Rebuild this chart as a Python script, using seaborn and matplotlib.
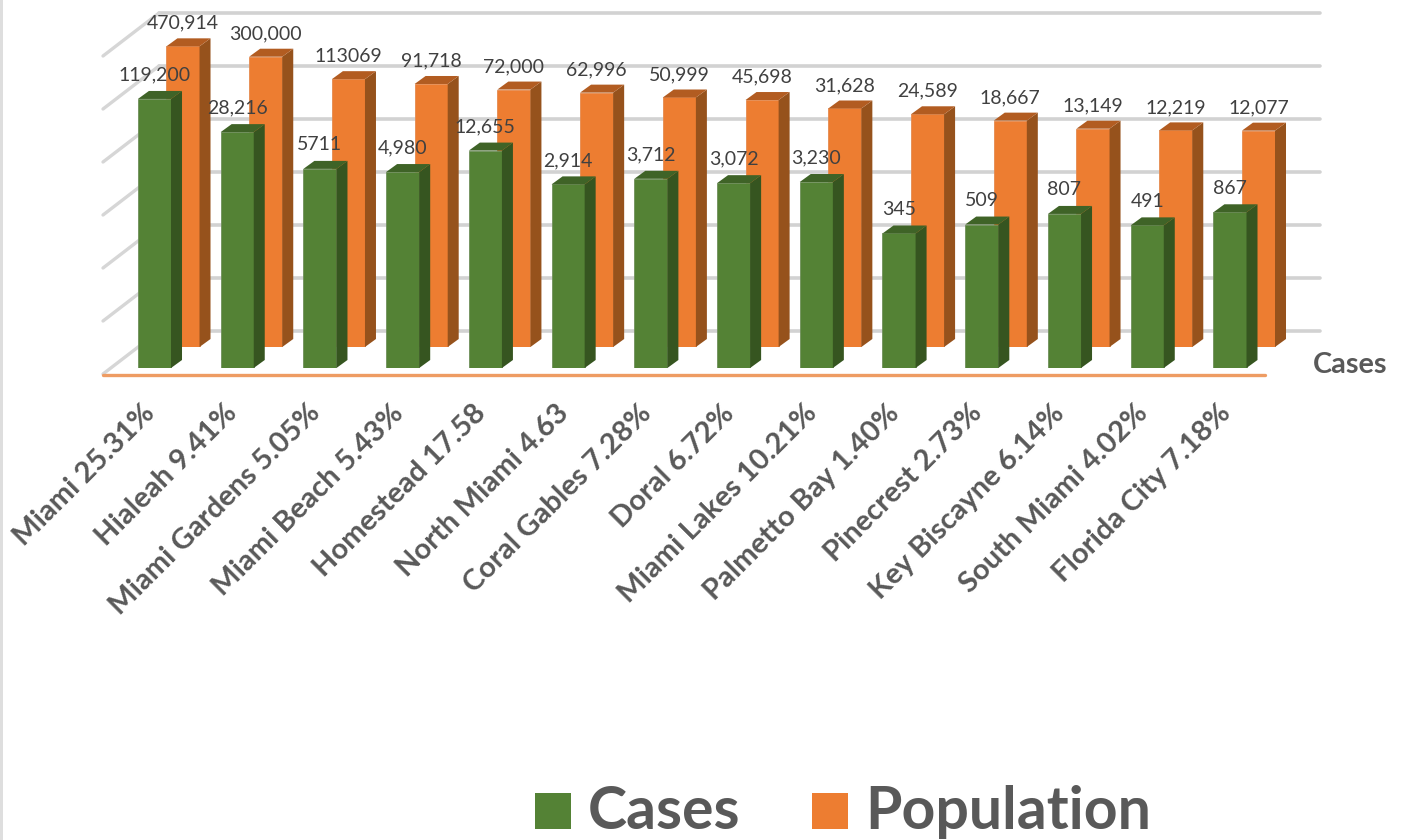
import matplotlib
matplotlib.use('Agg')
import matplotlib.pyplot as plt
import seaborn as sns
from matplotlib.lines import Line2D
from matplotlib.patches import Polygon, Rectangle
from matplotlib.transforms import IdentityTransform, ScaledTranslation

W, H = 1403, 840

cities = ['Miami 25.31%', 'Hialeah 9.41%', 'Miami Gardens 5.05%', 'Miami Beach 5.43%',
          'Homestead 17.58', 'North Miami 4.63', 'Coral Gables 7.28%', 'Doral 6.72%',
          'Miami Lakes 10.21%', 'Palmetto Bay 1.40%', 'Pinecrest 2.73%', 'Key Biscayne 6.14%',
          'South Miami 4.02%', 'Florida City 7.18%']
cases = [119200, 28216, 5711, 4980, 12655, 2914, 3712, 3072, 3230, 345, 509, 807, 491, 867]
population = [470914, 300000, 113069, 91718, 72000, 62996, 50999, 45698, 31628, 24589,
              18667, 13149, 12219, 12077]
case_labels = ['119,200', '28,216', '5711', '4,980', '12,655', '2,914', '3,712', '3,072',
               '3,230', '345', '509', '807', '491', '867']
pop_labels = ['470,914', '300,000', '113069', '91,718', '72,000', '62,996', '50,999', '45,698',
              '31,628', '24,589', '18,667', '13,149', '12,219', '12,077']
grid_values = [1, 10, 100, 1000, 10000, 100000, 1000000]

GREEN, GREEN_SIDE, GREEN_TOP, GREEN_EDGE = '#548235', '#365520', '#3f6327', '#6f8f5a'
ORANGE, ORANGE_SIDE, ORANGE_TOP, ORANGE_EDGE = '#ed7d31', '#96521c', '#b25c21', '#e58a4f'
TEXT = '#595959'
PX_PER_DECADE = 53
STEP = 82.73
PT = 72 / 100  # points per pixel at dpi 100

sns.set_theme(style='white')
plt.rcParams['font.family'] = ['Lato', 'DejaVu Sans']

fig = plt.figure(figsize=(W / 100, H / 100), dpi=100, facecolor='white')


def axes_px(left, bottom, width, height):
    ax = fig.add_axes([left / W, 1 - bottom / H, width / W, height / H])
    ax.patch.set_alpha(0)
    ax.set_yscale('log')
    ax.set_ylim(1, 10 ** (height / PX_PER_DECADE))
    return ax


def clean(ax):
    sns.despine(ax=ax, left=True, bottom=True)
    ax.set_xlabel('')
    ax.set_ylabel('')
    ax.tick_params(axis='both', which='both', length=0, labelleft=False)


def draw_bars(ax, values, labels, color, side, top, edge, text_offset):
    sns.barplot(x=cities, y=values, ax=ax, color=color, saturation=1, width=0.4,
                edgecolor=edge, linewidth=0.6)
    ax.set_yscale('log')
    ax.set_xlim(-0.5, 13.5)
    ax.set_ylim(1, 10 ** (ax.get_position().height * H / PX_PER_DECADE))
    dx, dy = 11, 8
    for bar, v, lab in zip(list(ax.patches), values, labels):
        x0, x1 = bar.get_x(), bar.get_x() + bar.get_width()
        (a, base), (b, up) = ax.transData.transform([(x0, 1), (x1, v)])
        for pts, c in (([(b, base), (b + dx, base + dy), (b + dx, up + dy), (b, up)], side),
                       ([(a, up), (b, up), (b + dx, up + dy), (a + dx, up + dy)], top)):
            ax.add_patch(Polygon(pts, closed=True, facecolor=c, edgecolor='none',
                                 transform=IdentityTransform(), clip_on=False))
        ax.annotate(lab, xy=((x0 + x1) / 2, v), xytext=(0, text_offset * PT),
                    textcoords='offset points', ha='center', va='center',
                    fontsize=14, color='#404040', annotation_clip=False)
    clean(ax)


# back wall, gridlines and the slanted side wall lines
wall = axes_px(159, 331, 1161, 331)
wall.set_xticks([])
wall.set_yticks(grid_values)
wall.minorticks_off()
wall.grid(True, axis='y', which='major', color='#d2d2d2', linewidth=2.6)
for line in wall.get_ygridlines():
    line.set_clip_on(False)
    line.set_solid_capstyle('round')
for v in grid_values:
    wall.annotate('', xy=(0, v), xycoords=('axes fraction', 'data'),
                  xytext=(-56 * PT, -43 * PT), textcoords='offset points',
                  arrowprops=dict(arrowstyle='-', color='#d6d6d6', lw=2.4, shrinkA=0, shrinkB=0))
clean(wall)
wall.tick_params(labelbottom=False)

back = axes_px(141.6, 347, STEP * 14, 347)
draw_bars(back, population, pop_labels, ORANGE, ORANGE_SIDE, ORANGE_TOP, ORANGE_EDGE, 23)
back.tick_params(labelbottom=False)

front = axes_px(113.1, 368, STEP * 14, 368)
draw_bars(front, cases, case_labels, GREEN, GREEN_SIDE, GREEN_TOP, GREEN_EDGE, 24)
front.set_xticks(range(len(cities)))
front.set_xticklabels(cities, rotation=45, ha='right', rotation_mode='anchor',
                      fontsize=21, fontweight='bold', color=TEXT)
front.tick_params(axis='x', pad=23)
shift = ScaledTranslation(-13 / 100, 0, fig.dpi_scale_trans)
for lab in front.get_xticklabels():
    lab.set_transform(lab.get_transform() + shift)

# floor edge and the thin strip at the image's left
fig.add_artist(Line2D([103 / W, 1265 / W], [1 - 374.5 / H] * 2, color='#ee9c63', lw=2.4))
fig.add_artist(Rectangle((0, 0), 3 / W, 1, transform=fig.transFigure, color='#dedede', lw=0))
fig.text(1350 / W, 1 - 365 / H, 'Cases', fontsize=20.7, fontweight='bold', color=TEXT,
         ha='center', va='center')

# legend swatches sit on the text baseline, which a stock legend won't do
for name, color, swatch_x, text_x in (('Cases', GREEN, 535, 588), ('Population', ORANGE, 812, 865)):
    fig.add_artist(Rectangle((swatch_x / W, 1 - 829 / H), 36 / W, 36 / H,
                             transform=fig.transFigure, color=color, lw=0))
    fig.text(text_x / W, 1 - 829 / H, name, fontsize=42.5, fontweight='bold', color=TEXT,
             ha='left', va='baseline')

fig.savefig('out.png', dpi=100)
